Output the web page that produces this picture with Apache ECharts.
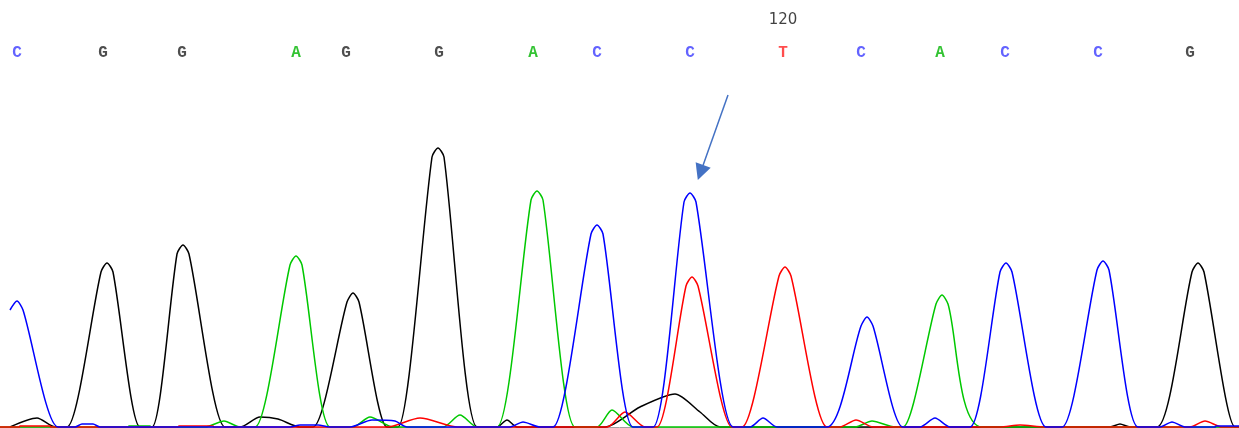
<!DOCTYPE html>
<html>
<head>
<meta charset="utf-8">
<script src="https://cdn.jsdelivr.net/npm/echarts@6/dist/echarts.min.js"></script>
<style>
  html, body { margin: 0; padding: 0; background: #fff; }
  #main { width: 1239px; height: 428px; }
</style>
</head>
<body>
<div id="main"></div>
<script>
// trace points per channel: [scan position, signal height]
var traceC = [[10,117],[17,126],[23,117],[58,0],[75,0],[82,3],[93,3],[100,0],[290,0],[300,2],[318,2],[330,0],
    [350,0],[372,7],[395,6],[407,0],[510,0],[523,5],[540,0],[553,0],[591,193],[597,202],[603,193],[633,0],
    [653,0],[684,225],[690,234],[696,225],[733,0],[750,0],[763,9],[777,0],[827,0],[861,101],[867,110],[873,101],[903,0],
    [920,0],[935,9],[950,0],[970,0],[1000,155],[1006,164],[1012,155],[1046,0],[1062,0],[1097,157],[1103,166],[1109,157],[1138,0],
    [1160,0],[1172,5],[1185,0],[1215,0],[1216,1],[1239,1]];
var traceG = [[10,0],[37,9],[55,0],[67,0],[101,155],[107,164],[113,155],[140,0],[152,0],[177,173],[183,182],[189,173],[225,0],
    [240,0],[260,10],[278,8],[300,0],[313,0],[347,125],[353,134],[359,125],[387,0],[398,0],[432,270],[438,279],[444,270],[477,0],
    [497,0],[507,7],[517,0],[605,0],[640,20],[675,33],[700,15],[720,0],[1110,0],[1120,3],[1130,0],
    [1157,0],[1192,155],[1198,164],[1204,155],[1235,0],[1239,0]];
var traceA = [[0,0],[128,0],[129,1],[150,1],[151,0],[205,0],[224,6],[240,0],[255,0],[290,162],[296,171],[302,162],[330,0],[353,0],[370,10],[393,0],
    [443,0],[460,12],[477,0],[497,0],[531,227],[537,236],[543,227],[575,0],[597,0],[612,17],[633,0],
    [855,0],[872,6],[895,0],[903,0],[936,123],[942,132],[948,123],[982,0],[1239,0]];
var traceT = [[0,0],[19,0],[20,1],[50,1],[51,0],[178,0],[179,1],[213,1],[214,0],[387,0],[420,9],[458,0],[607,0],[625,15],[645,0],[657,0],[686,141],[692,150],[698,141],[732,0],
    [742,0],[779,151],[785,160],[791,151],[827,0],[840,0],[856,7],[873,0],[1000,0],[1020,2],[1045,0],
    [1190,0],[1205,6],[1222,0],[1239,0]];

// base calls
var bases = ['C','G','G','A','G','G','A','C','C','T','C','A','C','C','G'];
var basePos = [17,103,182,296,346,439,533,597,690,783,861,940,1005,1098,1190];
var baseColors = { A: '#00b400', C: '#3c3cff', G: '#222222', T: '#ff2020' };
var posLabel = ['120'];
var posLabelAt = [783];

// arrow pointing at the mixed peak
var arrowFrom = [728, 332];
var arrowTo = [700.5, 254.5];

var chart = echarts.init(document.getElementById('main'));

var baseData = [];
for (var i = 0; i < bases.length; i++) {
    baseData.push({
        value: [basePos[i], 374],
        name: bases[i],
        label: { color: baseColors[bases[i]] }
    });
}
var posData = [];
for (var j = 0; j < posLabel.length; j++) {
    posData.push({ value: [posLabelAt[j], 407], name: posLabel[j] });
}

function trace(name, data, color) {
    return {
        name: name,
        type: 'line',
        data: data,
        smooth: 0.25,
        symbol: 'none',
        clip: false,
        lineStyle: { color: color, width: 1.5 },
        silent: true
    };
}

var option = {
    backgroundColor: '#ffffff',
    animation: false,
    grid: { left: 0, right: 0, top: 0, bottom: 1 },
    xAxis: {
        type: 'value', min: 0, max: 1239, z: 3,
        axisLine: { show: true, lineStyle: { color: '#a0a0a0', width: 1 } },
        axisTick: { show: false }, axisLabel: { show: false }, splitLine: { show: false }
    },
    yAxis: {
        type: 'value', min: 0, max: 427,
        axisLine: { show: false }, axisTick: { show: false },
        axisLabel: { show: false }, splitLine: { show: false }
    },
    series: [
        trace('G', traceG, '#000000'),
        trace('A', traceA, '#00c800'),
        trace('T', traceT, '#ff0000'),
        trace('C', traceC, '#0000ff'),
        {
            type: 'scatter',
            data: baseData,
            symbolSize: 0,
            silent: true,
            label: {
                show: true, position: 'inside', formatter: '{b}',
                fontFamily: 'Liberation Mono', fontSize: 16, fontWeight: 'bold'
            }
        },
        {
            type: 'scatter',
            data: posData,
            symbolSize: 0,
            silent: true,
            label: {
                show: true, position: 'inside', formatter: '{b}',
                fontFamily: 'DejaVu Sans', fontSize: 15, color: '#111'
            }
        },
        {
            type: 'lines',
            coordinateSystem: 'cartesian2d',
            silent: true,
            symbol: ['none', 'triangle'],
            symbolSize: [1, 16],
            lineStyle: { color: '#4472c4', width: 1.5, opacity: 1 },
            data: [{ coords: [arrowFrom, arrowTo] }]
        }
    ]
};

chart.setOption(option);
</script>
</body>
</html>
